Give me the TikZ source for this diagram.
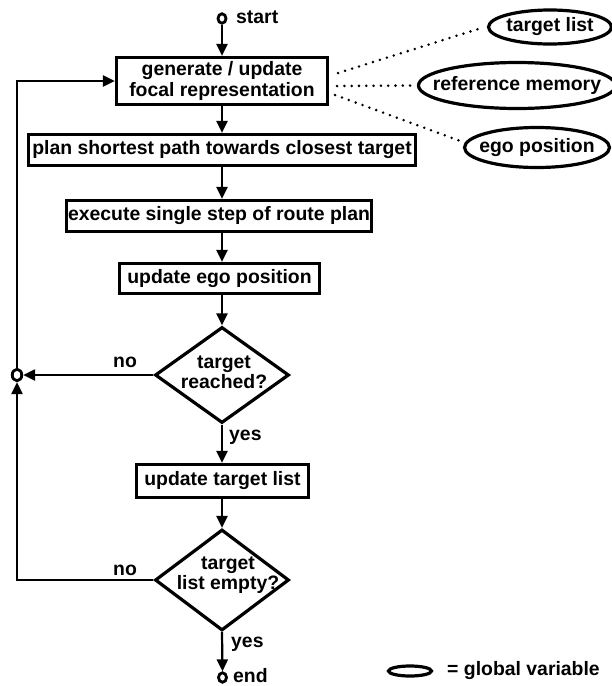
\documentclass[tikz,border=0pt]{standalone}
\usepackage{fontspec}
\setmainfont{Liberation Sans}
\usetikzlibrary{arrows.meta,shapes.geometric,calc}
\begin{document}
\begin{tikzpicture}[x=1pt,y=-1pt,
  font=\fontsize{19.4}{20.5}\selectfont\bfseries,
  box/.style={draw, line width=3.2pt, inner sep=0pt, align=center},
  dia/.style={draw, diamond, line width=3.2pt, inner sep=0pt},
  dtext/.style={inner sep=0pt, align=center},
  gv/.style={draw, ellipse, line width=3.2pt, inner sep=0pt},
  term/.style={draw, ellipse, line width=2.8pt, inner sep=0pt},
  conn/.style={line width=2.2pt, -{Triangle[length=12pt,width=11pt]}},
  dotline/.style={line width=2.8pt, line cap=round, dash pattern=on 0pt off 7.3pt},
  lab/.style={inner sep=0pt, anchor=base west}]
\useasboundingbox (0,0) rectangle (611,686);

% terminals
\node[term, minimum width=8pt, minimum height=9.5pt] (start) at (222,18.5) {};
\node[lab] (startl) at (236,23) {start};
\node[term, minimum width=8pt, minimum height=9.5pt] (end) at (222.5,677.5) {};
\node[lab] (endl) at (233,682) {end};
\node[term, minimum width=9.5pt, minimum height=11.5pt] (loop) at (17,375) {};

% process boxes
\node[box, minimum width=211pt, minimum height=47pt] (b1) at (222,81) {generate / update\\focal representation};
\node[box, minimum width=387pt, minimum height=31pt] (b2) at (222,150) {plan shortest path towards closest target};
\node[box, minimum width=305pt, minimum height=31pt] (b3) at (219,216) {execute single step of route plan};
\node[box, minimum width=200pt, minimum height=30pt] (b4) at (219.5,278.5) {update ego position};
\node[box, minimum width=172pt, minimum height=33pt] (b5) at (222.5,481) {update target list};

% decisions
\node[dia, minimum width=134pt, minimum height=96pt] (d1) at (222,375) {};
\node[dtext] (d1t) at (224,372.5) {target\\reached?};
\node[dia, minimum width=134pt, minimum height=101pt] (d2) at (222,580) {};
\node[dtext] (d2t) at (228,575) {target\\list empty?};

% global variables
\node[gv, minimum width=123pt, minimum height=34pt] (e1) at (550,27) {\makebox[0pt]{target list}};
\node[gv, minimum width=197pt, minimum height=46pt] (e2) at (517,85.5) {\makebox[0pt]{reference memory}};
\node[gv, minimum width=145pt, minimum height=40pt] (e3) at (537,147.5) {\makebox[0pt]{ego position}};

% legend
\node[gv, minimum width=43pt, minimum height=10pt] (leg) at (410,671) {};
\node[inner sep=0pt, anchor=west] (legt) at (447,671) {= global variable};

% labels
\node[lab] (no1) at (113,367) {no};
\node[lab] (yes1) at (229,440) {yes};
\node[lab] (no2) at (113,575) {no};
\node[lab] (yes2) at (231,647) {yes};

% main flow
\draw[conn] (start.south) -- (b1.north);
\draw[conn] (b1.south) -- (b2.north);
\draw[conn] (b2.south) -- (b3.north -| b2.south);
\draw[conn] (b3.south -| b1.south) -- (b4.north -| b1.south);
\draw[conn] (b4.south -| d1.north) -- (d1.north);
\draw[conn] (d1.south) -- (b5.north -| d1.south);
\draw[conn] (b5.south -| d2.north) -- (d2.north);
\draw[conn] (d2.south) -- (end.north);

% loops
\draw[conn] (d1.west) -- (loop.east);
\draw[conn] (d2.west) -- (loop |- d2.west) -- (loop.south);
\draw[conn] (loop.north) -- (loop |- b1.west) -- (b1.west);

% dotted associations
\draw[dotline] ($(b1.east)+(9,-8)$) -- ($(e1.west)+(-5.5,1)$);
\draw[dotline] ($(b1.east)+(8,5)$) -- ($(e2.west)+(-4,0)$);
\draw[dotline] ($(b1.east)+(6,14)$) -- ($(e3.west)+(-4,-7)$);
\end{tikzpicture}
\end{document}
